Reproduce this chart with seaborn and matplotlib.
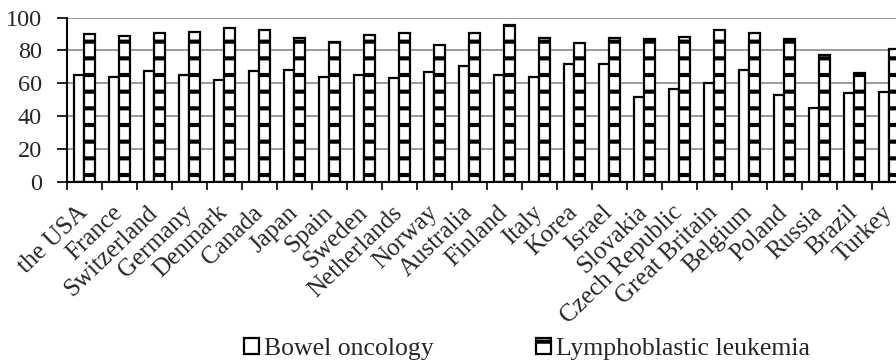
import matplotlib
matplotlib.use("Agg")
import matplotlib.pyplot as plt
import seaborn as sns
import pandas as pd
import numpy as np

countries = ["the USA", "France", "Switzerland", "Germany", "Denmark", "Canada",
             "Japan", "Spain", "Sweden", "Netherlands", "Norway", "Australia",
             "Finland", "Italy", "Korea", "Israel", "Slovakia", "Czech Republic",
             "Great Britain", "Belgium", "Poland", "Russia", "Brazil", "Turkey"]
bowel = [65.0, 64.0, 67.5, 64.8, 61.8, 67.5, 67.9, 63.6, 65.0, 63.2, 66.9, 70.7,
         64.8, 64.0, 71.7, 72.0, 51.8, 56.5, 60.2, 67.9, 52.8, 45.1, 53.9, 54.9]
leukemia = [89.8, 88.8, 90.4, 91.1, 93.9, 92.7, 87.6, 85.0, 89.2, 90.4, 83.1, 90.7,
            95.5, 87.8, 84.6, 87.8, 87.0, 88.4, 92.3, 90.9, 87.0, 77.0, 66.5, 81.1]
series_names = ["Bowel oncology", "Lymphoblastic leukemia"]
yticks = [0, 20, 40, 60, 80, 100]

df = pd.DataFrame({
    "country": countries * 2,
    "value": bowel + leukemia,
    "series": [series_names[0]] * len(countries) + [series_names[1]] * len(countries),
})

sns.set_theme(style="white")
plt.rcParams["font.family"] = ["Liberation Serif", "DejaVu Serif"]
plt.rcParams["hatch.linewidth"] = 3.0
plt.rcParams["hatch.color"] = "black"

W, H = 896, 363
fig = plt.figure(figsize=(W / 100, H / 100), dpi=100)
left = 66.7 / W
bottom = (H - 181.7) / H
top = (H - 17.7) / H
ax = fig.add_axes([left, bottom, 840 / W, top - bottom])

sns.barplot(data=df, x="country", y="value", hue="series", order=countries,
            hue_order=series_names, palette=["white", "white"], edgecolor="black",
            linewidth=1.6, width=0.61, saturation=1, legend=False, ax=ax, zorder=3)

for p in ax.containers[1]:
    p.set_hatch("-")

ax.set_xlim(-0.5, len(countries) - 0.5)
ax.set_ylim(0, 100)
ax.set_yticks(yticks)
ax.set_xlabel("")
ax.set_ylabel("")
ax.yaxis.grid(True, color="#7f7f7f", linewidth=1.1, zorder=0)
ax.xaxis.grid(False)
ax.set_axisbelow(True)
for s in ["top", "right"]:
    ax.spines[s].set_visible(False)
for s in ["left", "bottom"]:
    ax.spines[s].set_color("black")
    ax.spines[s].set_linewidth(1.5)
    ax.spines[s].set_zorder(4)

ax.set_xticks(np.arange(-0.5, len(countries), 1.0), minor=True)
ax.tick_params(axis="x", which="minor", bottom=True, length=6, width=1.2, color="black")
ax.tick_params(axis="x", which="major", bottom=False, length=0, pad=20, labelsize=18)
ax.tick_params(axis="y", left=True, length=7, width=1.2, color="black", pad=11, labelsize=17.5)
ax.set_xticks(range(len(countries)))
ax.set_xticklabels(countries, rotation=44, ha="right", rotation_mode="anchor", va="center")

fig.legend(handles=[ax.containers[0], ax.containers[1]], labels=series_names,
           loc="center", bbox_to_anchor=(527 / W, 1 - 349 / H), ncol=2, frameon=False,
           fontsize=18.5, handlelength=0.6, handleheight=0.6, handletextpad=0.2,
           columnspacing=3.95, borderaxespad=0)

fig.savefig("out.png", dpi=100)
